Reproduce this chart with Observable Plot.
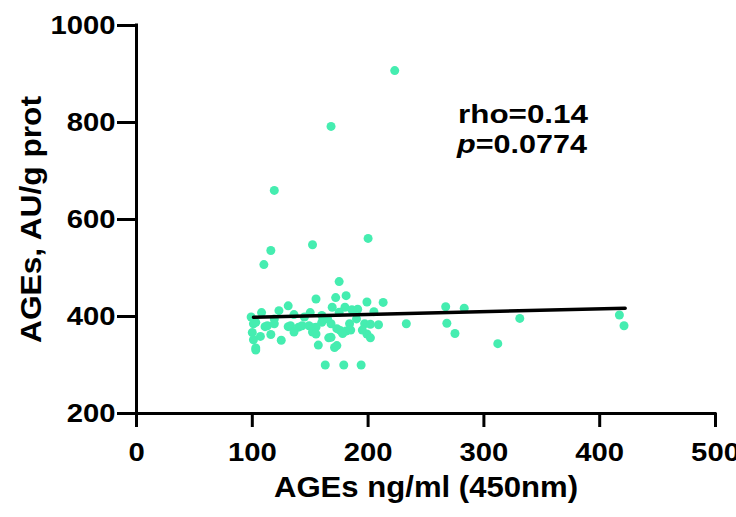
<!DOCTYPE html>
<html><head><meta charset="utf-8">
<script src="https://cdn.jsdelivr.net/npm/d3@7"></script>
<script src="https://cdn.jsdelivr.net/npm/@observablehq/plot@0.6"></script>
<style>body{margin:0;background:#fff} #chart{width:736px;height:517px}</style>
</head><body><div id="chart"></div>
<script>
// Scatter values (AGEs ng/ml vs AGEs AU/g prot)
const xValues = [223,168,119,152,200,116,110,175,
  155,172,181,131,123,108,99,169,180,199,213,205,191,186,175,136,145,160,150,
  119,101,103,111,113,119,131,133,140,143,149,153,155,160,168,173,176,181,184,197,202,209,233,190,165,
  100,107,101,103,116,125,136,152,155,157,166,168,171,173,199,202,103,178,185,195,
  163,179,194,
  267,283,268,275,312,331,417,421];
const yValues = [907,792,660,548,561,536,507,472,
  436,439,443,422,412,408,399,419,419,430,429,410,415,414,409,404,399,402,408,
  395,385,388,379,381,385,379,381,378,381,381,377,378,388,385,375,371,370,385,385,384,383,385,395,395,
  367,359,352,331,363,351,368,368,364,341,356,357,336,340,364,356,335,365,372,372,
  300,300,300,
  420,417,386,365,344,396,403,381];
// Regression line endpoints
const fitX = [101, 422];
const fitY = [398.5, 417];
const xTicks = [0,100,200,300,400,500];
const yTicks = [200,400,600,800,1000];
const xTitle = "AGEs ng/ml (450nm)";
const yTitle = "AGEs, AU/g prot";
const statRho = "rho=0.14";
const statPSymbol = "p";
const statPValue = "=0.0774";

const points = xValues.map((x,i)=>({x, y:yValues[i]}));
const fit = fitX.map((x,i)=>({x, y:fitY[i]}));

const chart = Plot.plot({
  width:736, height:517, marginLeft:136, marginRight:21, marginTop:25, marginBottom:104,
  style:{fontFamily:"'Liberation Sans', Arial, sans-serif", fontWeight:"bold", color:"#000", background:"#fff", overflow:"visible"},
  x:{domain:[0,500]},
  y:{domain:[200,1000]},
  marks:[
    Plot.dot(points,{x:"x",y:"y",r:4.5,fill:"#45EDB0"}),
    Plot.line(fit,{x:"x",y:"y",stroke:"#000",strokeWidth:3.5}),
    Plot.axisX({ticks:xTicks, tickSize:14, tickPadding:16, fontSize:25, strokeWidth:3, label:null, tickFormat:d=>String(d)}),
    Plot.axisY({ticks:yTicks, tickSize:19, tickPadding:2, fontSize:25, strokeWidth:3, label:null, tickFormat:d=>String(d)}),
    Plot.ruleY([200],{strokeWidth:3, strokeLinecap:"square"}),
    Plot.ruleX([0],{strokeWidth:3, strokeLinecap:"square"}),
    Plot.text([xTitle],{frameAnchor:"bottom", textAnchor:"middle", dy:83, fontSize:29}),
    Plot.text([yTitle],{frameAnchor:"left", textAnchor:"middle", rotate:-90, dx:-105, fontSize:29})
  ]
});
document.getElementById("chart").appendChild(chart);
const svg = d3.select(chart);

// Widen glyphs horizontally (the reference's bold face is wider than Arial) while keeping the anchor.
function stretchNode(node, factor, target){
  const anchor = getComputedStyle(node).textAnchor;
  const L = node.getComputedTextLength();
  const T = target != null ? target : L*factor;
  const x0 = parseFloat(node.getAttribute("x")) || 0;
  const off = anchor === "middle" ? -T/2 : anchor === "end" ? -T : 0;
  node.setAttribute("text-anchor","start");
  node.style.textAnchor = "start";
  node.setAttribute("x", x0 + off);
  node.setAttribute("textLength", T);
  node.setAttribute("lengthAdjust","spacingAndGlyphs");
}
svg.selectAll('g[aria-label="x-axis tick label"] text').each(function(){ stretchNode(this, 1.17); });
svg.selectAll('g[aria-label="y-axis tick label"] text').each(function(){ stretchNode(this, 1.17); });
const titles = svg.selectAll('g[aria-label="text"] text').nodes();
if (titles[0]) stretchNode(titles[0], 1, 304);
if (titles[1]) stretchNode(titles[1], 1, 247);

const a1 = svg.append("text").attr("x",458).attr("y",123).attr("font-size",26).attr("font-weight","bold")
  .attr("fill","#000").attr("text-anchor","start").style("text-anchor","start").text(statRho);
a1.attr("textLength",130).attr("lengthAdjust","spacingAndGlyphs");
const a2 = svg.append("text").attr("x",457).attr("y",153).attr("font-size",26).attr("font-weight","bold")
  .attr("fill","#000").attr("text-anchor","start").style("text-anchor","start");
a2.append("tspan").attr("font-style","italic").text(statPSymbol);
a2.append("tspan").text(statPValue);
a2.attr("textLength",130).attr("lengthAdjust","spacingAndGlyphs");
</script>
</body></html>
